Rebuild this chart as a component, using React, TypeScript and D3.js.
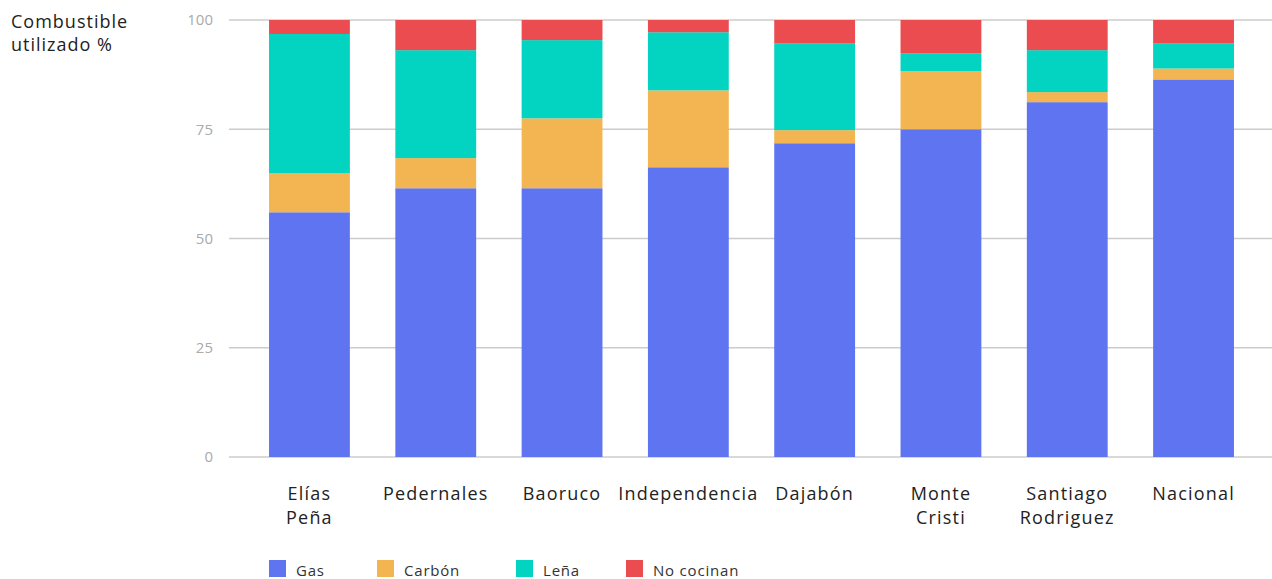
import React from "react";
import * as d3 from "d3";

const categories: string[][] = [
  ["Elías", "Peña"],
  ["Pedernales"],
  ["Baoruco"],
  ["Independencia"],
  ["Dajabón"],
  ["Monte", "Cristi"],
  ["Santiago", "Rodriguez"],
  ["Nacional"],
];
const seriesNames = ["Gas", "Carbón", "Leña", "No cocinan"];
const gas = [56.0, 61.5, 61.5, 66.3, 71.8, 75.0, 81.2, 86.4];
const carbon = [8.9, 6.9, 16.0, 17.6, 3.0, 13.3, 2.3, 2.5];
const lena = [31.9, 24.7, 17.9, 13.3, 19.9, 4.1, 9.6, 5.8];
const noCocinan = [3.2, 6.9, 4.6, 2.8, 5.3, 7.6, 6.9, 5.3];
const yTicks = [0, 25, 50, 75, 100];
const colors = ["#5f74f1", "#f2b552", "#03d3c1", "#ea4c4f"];

const W = 1272;
const H = 579;
const margin = { left: 229, right: -2, top: 20, bottom: 122 };

export default function App() {
  const keys = categories.map((c) => c.join(" "));
  const rows = keys.map((k, i) => ({
    key: k,
    Gas: gas[i],
    "Carbón": carbon[i],
    "Leña": lena[i],
    "No cocinan": noCocinan[i],
  }));
  const stack = d3.stack<any>().keys(seriesNames);
  const layers = stack(rows);

  const x = d3
    .scaleBand<string>()
    .domain(keys)
    .range([margin.left, W - margin.right])
    .paddingInner(0.36)
    .paddingOuter(0.317);
  const y = d3
    .scaleLinear()
    .domain([0, 100])
    .range([H - margin.bottom, margin.top]);

  const labelFont = "'Open Sans', sans-serif";

  const legendX = [269, 377, 516, 626];

  return (
    <svg
      width={W}
      height={H}
      style={{ position: "absolute", left: 0, top: 0, background: "#fff" }}
    >
      <text
        x={11}
        y={28}
        fontFamily={labelFont}
        fontSize={18}
        letterSpacing={1.0}
        fill="#222"
      >
        <tspan x={11} y={28}>Combustible</tspan>
        <tspan x={11} y={51}>utilizado %</tspan>
      </text>
      {yTicks.map((t) => (
        <g key={t}>
          <line
            x1={margin.left}
            x2={W}
            y1={y(t)}
            y2={y(t)}
            stroke="#cccccc"
            strokeWidth={1.5}
          />
          <text
            x={213}
            y={y(t)}
            dy="0.35em"
            textAnchor="end"
            fontFamily={labelFont}
            fontSize={15}
            fill="#aaaaaa"
          >
            {t}
          </text>
        </g>
      ))}
      {layers.map((layer, li) => (
        <g key={layer.key} fill={colors[li]}>
          {layer.map((d: any, i: number) => (
            <rect
              key={i}
              x={x(keys[i])}
              width={x.bandwidth()}
              y={y(d[1])}
              height={y(d[0]) - y(d[1])}
            />
          ))}
        </g>
      ))}
      {categories.map((c, i) => (
        <text
          key={i}
          textAnchor="middle"
          fontFamily={labelFont}
          fontSize={18}
          letterSpacing={1.2}
          fill="#222"
        >
          {c.map((line, j) => (
            <tspan
              key={j}
              x={(x(keys[i]) as number) + x.bandwidth() / 2}
              y={500 + j * 24}
            >
              {line}
            </tspan>
          ))}
        </text>
      ))}
      {seriesNames.map((s, i) => (
        <g key={s}>
          <rect x={legendX[i]} y={560} width={17} height={17} fill={colors[i]} />
          <text
            x={legendX[i] + 27}
            y={576}
            fontFamily={labelFont}
            fontSize={15}
            letterSpacing={0.8}
            fill="#333"
          >
            {s}
          </text>
        </g>
      ))}
    </svg>
  );
}
